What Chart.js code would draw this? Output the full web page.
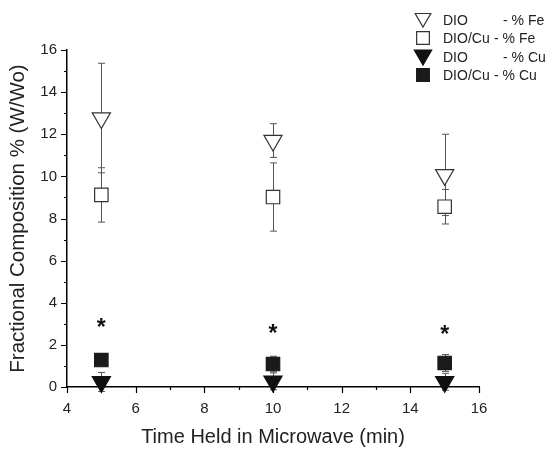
<!DOCTYPE html>
<html>
<head>
<meta charset="utf-8">
<script src="https://cdn.jsdelivr.net/npm/chart.js@4/dist/chart.umd.min.js"></script>
<style>
html,body{margin:0;padding:0;background:#fff;}
canvas{display:block;}
</style>
</head>
<body>
<canvas id="c" width="547" height="452"></canvas>
<script>
// ---- data ----
const times = [5, 10, 15];
const dioFe = [12.77, 11.70, 10.07];
const dioFeErr = [2.6, 0.8, 1.93];
const dioCuFe = [9.12, 9.02, 8.56];
const dioCuFeErr = [1.29, 1.62, 0.82];
const dioCu = [0.24, 0.27, 0.25];
const dioCuErr = [0.45, 0.4, 0.4];
const dioCuCu = [1.28, 1.09, 1.14];
const dioCuCuErr = [0.25, 0.37, 0.4];
const asterisks = [2.95, 2.67, 2.63];
const seriesNames = ['DIO', 'DIO/Cu', 'DIO', 'DIO/Cu'];
const seriesSuffix = ['- % Fe', '- % Fe', '- % Cu', '- % Cu'];
const xTickMin = 4, xTickMax = 16, yTickMin = 0, yTickMax = 16;

const FONT = 'Arial, "Liberation Sans", sans-serif';
const pts = (ys, errs) => times.map((t, i) => ({x: t, y: ys[i], e: errs[i]}));

const styles = [
  {pointStyle: 'triangle', rotation: 180, radius: 10.5, bg: '#ffffff', border: '#333333'},
  {pointStyle: 'rect', rotation: 0, radius: 9.5, bg: '#ffffff', border: '#333333'},
  {pointStyle: 'triangle', rotation: 180, radius: 10.5, bg: '#111111', border: '#111111'},
  {pointStyle: 'rect', rotation: 0, radius: 9.5, bg: '#1a1a1a', border: '#1a1a1a'}
];
const seriesData = [pts(dioFe, dioFeErr), pts(dioCuFe, dioCuFeErr), pts(dioCu, dioCuErr), pts(dioCuCu, dioCuCuErr)];

const datasets = seriesData.map((d, i) => ({
  label: seriesNames[i] + ' ' + seriesSuffix[i],
  data: d,
  pointStyle: styles[i].pointStyle,
  rotation: styles[i].rotation,
  pointRadius: styles[i].radius,
  pointHoverRadius: styles[i].radius,
  backgroundColor: styles[i].bg,
  borderColor: styles[i].border,
  borderWidth: 1.2,
  showLine: false,
  clip: false
}));

const errorBarPlugin = {
  id: 'errorBars',
  beforeDatasetsDraw(chart) {
    const ctx = chart.ctx, xs = chart.scales.x, ys = chart.scales.y;
    ctx.save();
    ctx.strokeStyle = '#555555';
    ctx.lineWidth = 1;
    chart.data.datasets.forEach(ds => {
      ds.data.forEach(p => {
        const px = Math.round(xs.getPixelForValue(p.x)) + 0.5;
        const yt = ys.getPixelForValue(p.y + p.e);
        const yb = ys.getPixelForValue(p.y - p.e);
        ctx.beginPath();
        ctx.moveTo(px, yt); ctx.lineTo(px, yb);
        ctx.moveTo(px - 3.5, yt); ctx.lineTo(px + 3.5, yt);
        ctx.moveTo(px - 3.5, yb); ctx.lineTo(px + 3.5, yb);
        ctx.stroke();
      });
    });
    ctx.restore();
  }
};

function drawMarker(ctx, st, x, y, r) {
  ctx.save();
  ctx.fillStyle = st.bg; ctx.strokeStyle = st.border; ctx.lineWidth = 1.2;
  ctx.beginPath();
  if (st.pointStyle === 'triangle') {
    const s = r * Math.sin(Math.PI / 3);
    ctx.moveTo(x - s, y - r / 2);
    ctx.lineTo(x + s, y - r / 2);
    ctx.lineTo(x, y + r);
    ctx.closePath();
  } else {
    const h = r * Math.SQRT1_2;
    ctx.rect(x - h, y - h, 2 * h, 2 * h);
  }
  ctx.fill(); ctx.stroke();
  ctx.restore();
}

const decorPlugin = {
  id: 'decor',
  afterDraw(chart) {
    const ctx = chart.ctx, xs = chart.scales.x, ys = chart.scales.y;
    const ca = chart.chartArea;
    ctx.save();
    // ticks (major every 2, minor every 1)
    ctx.strokeStyle = '#000'; ctx.lineWidth = 1.2;
    ctx.beginPath();
    for (let v = xTickMin; v <= xTickMax; v++) {
      const px = Math.round(xs.getPixelForValue(v)) + 0.5;
      const len = (v % 2 === 0) ? 6 : 3;
      ctx.moveTo(px, ca.bottom); ctx.lineTo(px, ca.bottom + len);
    }
    for (let v = yTickMin; v <= yTickMax; v++) {
      const py = Math.round(ys.getPixelForValue(v)) + 0.5;
      const len = (v % 2 === 0) ? 6 : 3;
      ctx.moveTo(ca.left, py); ctx.lineTo(ca.left - len, py);
    }
    ctx.stroke();
    // asterisks
    ctx.fillStyle = '#111';
    ctx.font = 'bold 23px ' + FONT;
    ctx.textAlign = 'center'; ctx.textBaseline = 'middle';
    times.forEach((t, i) => {
      ctx.fillText('*', xs.getPixelForValue(t), ys.getPixelForValue(asterisks[i]) + 4);
    });
    // legend
    const rowsY = [20, 38, 57, 75];
    ctx.font = '14px ' + FONT;
    ctx.textAlign = 'left';
    rowsY.forEach((ry, i) => {
      const st = styles[i];
      if (st.pointStyle === 'triangle') drawMarker(ctx, st, 423, ry - 2, i === 0 ? 9 : 10);
      else drawMarker(ctx, st, 423, ry, 9);
      ctx.fillStyle = '#222';
      ctx.fillText(seriesNames[i], 443, ry + 1);
      ctx.fillText(seriesSuffix[i], seriesNames[i] === 'DIO' ? 503 : 494, ry + 1);
    });
    ctx.restore();
  }
};

new Chart(document.getElementById('c'), {
  type: 'scatter',
  data: {datasets},
  options: {
    responsive: false,
    animation: false,
    events: [],
    layout: {padding: {top: 50, right: 68, left: 0, bottom: 0}},
    plugins: {legend: {display: false}, tooltip: {enabled: false}},
    scales: {
      x: {
        type: 'linear', min: xTickMin, max: xTickMax,
        afterFit(s) { s.height = 65; },
        grid: {display: false, drawTicks: false},
        border: {display: true, color: '#000', width: 1.5},
        ticks: {stepSize: 2, color: '#222', padding: 13, font: {family: FONT, size: 15}, maxRotation: 0},
        title: {display: true, text: 'Time Held in Microwave (min)', color: '#222',
                font: {family: FONT, size: 20}, padding: {top: 0, bottom: 3}}
      },
      y: {
        type: 'linear', min: yTickMin, max: yTickMax,
        afterFit(s) { s.width = 67; },
        grid: {display: false, drawTicks: false},
        border: {display: true, color: '#000', width: 1.5},
        ticks: {stepSize: 2, color: '#222', padding: 10, font: {family: FONT, size: 15}},
        title: {display: true, text: 'Fractional Composition % (W/Wo)', color: '#222',
                font: {family: FONT, size: 20.5}, padding: {top: 6, bottom: 0}}
      }
    }
  },
  plugins: [errorBarPlugin, decorPlugin]
});
</script>
</body>
</html>
